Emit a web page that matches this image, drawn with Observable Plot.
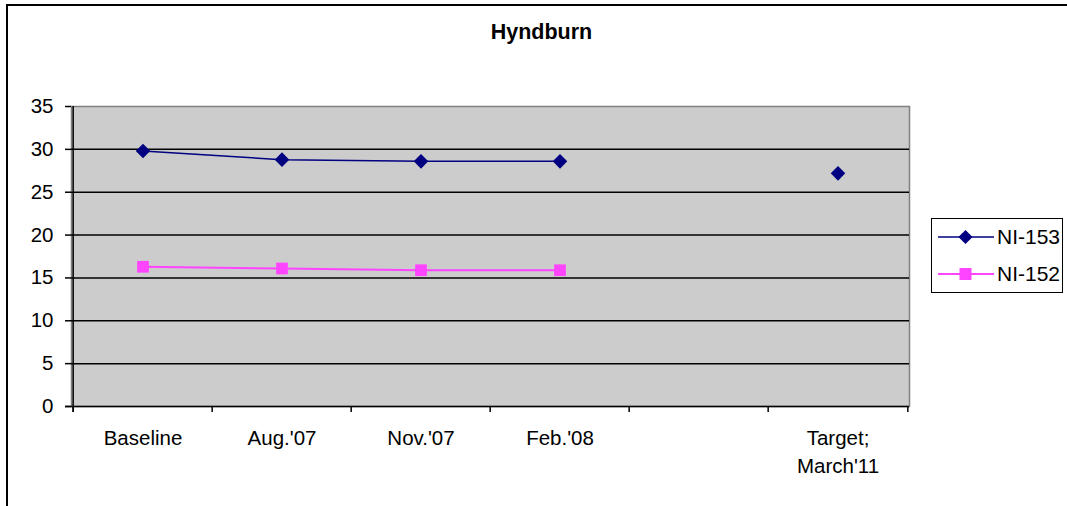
<!DOCTYPE html>
<html>
<head>
<meta charset="utf-8">
<script src="https://cdn.jsdelivr.net/npm/d3@7"></script>
<script src="https://cdn.jsdelivr.net/npm/@observablehq/plot@0.6"></script>
<style>
  html, body { margin: 0; padding: 0; background: #fff; }
  #wrap { position: relative; width: 1067px; height: 506px; overflow: hidden; font-family: "Liberation Sans", Arial, sans-serif; }
  #border { position: absolute; left: 6px; top: 4px; right: -10px; bottom: -10px; border-left: 2px solid #000; border-top: 2px solid #000; }
  #title { position: absolute; left: 0; width: 1083px; top: 20px; text-align: center; font-weight: bold; font-size: 21.5px; color: #000; }
  #chart { position: absolute; left: 0; top: 0; }
  #legend { position: absolute; left: 931px; top: 218px; width: 130px; height: 73px; border: 1.5px solid #000; background: #fff; }
  .item { position: absolute; left: 6px; height: 30px; display: flex; align-items: center; font-size: 21px; white-space: nowrap; }
  .item svg { margin-right: 3px; flex: none; }
</style>
</head>
<body>
<div id="wrap">
  <div id="border"></div>
  <div id="chart"></div>
  <div id="title">Hyndburn</div>
  <div id="legend"></div>
</div>
<script>
const categories = ["Baseline", "Aug.'07", "Nov.'07", "Feb.'08", "", "Target; March'11"];
const ni153 = [29.8, 28.8, 28.6, 28.6, null, 27.2];
const ni152 = [16.3, 16.1, 15.9, 15.9, null, null];
const yTicks = [0, 5, 10, 15, 20, 25, 30, 35];
const seriesNames = ["NI-153", "NI-152"];
const seriesColors = ["#000080", "#ff44ff"];

const W = 1067, H = 506;
const mL = 71, mR = 158, mT = 106, mB = 100;
const bw = (W - mL - mR) / categories.length;
const idx = categories.map((_, i) => i);

const chart = Plot.plot({
  width: W,
  height: H,
  marginLeft: mL,
  marginRight: mR,
  marginTop: mT,
  marginBottom: mB,
  style: { background: "transparent", fontFamily: "'Liberation Sans', Arial, sans-serif", color: "#000", overflow: "visible" },
  x: { type: "band", domain: categories, padding: 0, axis: null },
  y: { domain: [0, 35], axis: null },
  marks: [
    Plot.frame({ fill: "#cccccc", stroke: "#808080", strokeWidth: 1.5 }),
    Plot.gridY(yTicks.filter(v => v > 0 && v < 35), { stroke: "#000", strokeOpacity: 1, strokeWidth: 1.5 }),
    Plot.ruleY([0], { stroke: "#000", strokeWidth: 1.5, insetLeft: -6 }),
    Plot.ruleX([categories[0]], { x: d => d, dx: -bw / 2, stroke: "#000", strokeWidth: 1.5, insetBottom: -6 }),
    Plot.ruleX(categories, { x: d => d, y1: 0, y2: 0, dx: -bw / 2, stroke: "#000", strokeWidth: 1.5, insetTop: 0, insetBottom: -6 }),
    Plot.ruleX([categories[categories.length - 1]], { x: d => d, y1: 0, y2: 0, dx: bw / 2, stroke: "#000", strokeWidth: 1.5, insetTop: 0, insetBottom: -6 }),
    Plot.axisY({ ticks: yTicks, tickSize: 6, tickPadding: 12, fontSize: 20.5, tickFormat: d => String(d), stroke: "#000", strokeWidth: 1.5 }),
    Plot.axisX({ tickSize: 0, tickPadding: 18, fontSize: 20.5, lineHeight: 1.38, tickFormat: d => d.replace("; ", ";\n") }),
    Plot.line(idx, { x: i => categories[i], y: i => ni152[i], stroke: seriesColors[1], strokeWidth: 2 }),
    Plot.dot(idx, { x: i => categories[i], y: i => ni152[i], symbol: "square", r: 6.6, fill: seriesColors[1], stroke: "none" }),
    Plot.line(idx, { x: i => categories[i], y: i => ni153[i], stroke: seriesColors[0], strokeWidth: 1.5 }),
    Plot.dot(idx, { x: i => categories[i], y: i => ni153[i], symbol: "square", rotate: 45, r: 5.8, fill: seriesColors[0], stroke: "none" })
  ]
});
document.getElementById("chart").appendChild(chart);

// legend
const legend = document.getElementById("legend");
seriesNames.forEach((name, k) => {
  const item = document.createElement("div");
  item.className = "item";
  item.style.top = (k === 0 ? 3 : 40) + "px";
  const marker = k === 0
    ? `<rect x="${27.5 - 5}" y="${15 - 5}" width="10" height="10" transform="rotate(45 27.5 15)" fill="${seriesColors[k]}"/>`
    : `<rect x="${27.5 - 6}" y="${15 - 6}" width="12" height="12" fill="${seriesColors[k]}"/>`;
  item.innerHTML = `<svg width="56" height="30"><line x1="0" x2="56" y1="15" y2="15" stroke="${seriesColors[k]}" stroke-width="${k === 0 ? 1.5 : 2}"/>${marker}</svg><span>${name}</span>`;
  legend.appendChild(item);
});
</script>
</body>
</html>
